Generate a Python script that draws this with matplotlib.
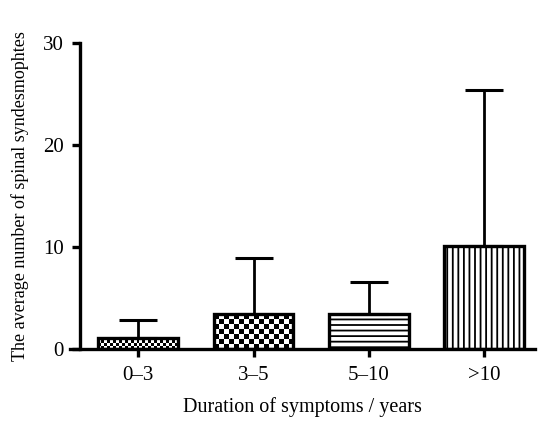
import numpy as np
import matplotlib
matplotlib.use("Agg")
import matplotlib.pyplot as plt

plt.rcParams['font.family'] = ['Liberation Serif', 'DejaVu Serif']
plt.rcParams['hatch.linewidth'] = 1.3

categories = ['0\u20133', '3\u20135', '5\u201310', '>10']
mean_counts = [1.1, 3.4, 3.4, 10.1]
sd_counts = [1.75, 5.5, 3.2, 15.3]
hatches = [None, None, '---', '|||']
checker_cells = [3, 5, None, None]  # checker square size in px

fig = plt.figure(figsize=(5.39, 4.23), dpi=100)
ax = fig.add_axes([0.130, 0.175, 0.8626, 0.723])

x = np.arange(len(categories))
bars = ax.bar(x, mean_counts, width=0.69, color='none', edgecolor='black',
              linewidth=2.4, zorder=3)
for bar, h in zip(bars, hatches):
    if h:
        bar.set_hatch(h)

ax.errorbar(x, mean_counts, yerr=[np.zeros(len(x)), sd_counts], fmt='none',
            ecolor='black', elinewidth=2, capsize=14, capthick=2.2, zorder=2)

ax.set_xlim(-0.59, 3.44)
ax.set_ylim(0, 30)
ax.spines['left'].set_position(('data', -0.5))
ax.spines['left'].set_bounds(0, 30)

# checker fills, clipped to the bars
fig.canvas.draw()
for bar, cell in zip(bars, checker_cells):
    if not cell:
        continue
    x0, y0 = bar.get_x(), bar.get_y()
    x1, y1 = x0 + bar.get_width(), y0 + bar.get_height()
    (px0, py0), (px1, py1) = ax.transData.transform([(x0, y0), (x1, y1)])
    nx = max(1, int(round((px1 - px0) / cell)))
    ny = max(1, int(round((py1 - py0) / cell)))
    board = (np.add.outer(np.arange(ny), np.arange(nx)) % 2).astype(float)
    im = ax.imshow(board, extent=(x0, x1, y0, y1), cmap='gray', vmin=0, vmax=1,
                   interpolation='nearest', aspect='auto', zorder=2.5)
    im.set_clip_path(bar)
ax.set_xlim(-0.59, 3.44)
ax.set_ylim(0, 30)

for s in ['top', 'right']:
    ax.spines[s].set_visible(False)
for s in ['left', 'bottom']:
    ax.spines[s].set_linewidth(2.4)

ax.set_xticks(x)
ax.set_xticklabels(categories)
ax.set_yticks([0, 10, 20, 30])
ax.tick_params(axis='both', direction='out', length=6, width=2.4,
               labelsize=15, pad=6)
ax.set_xlabel('Duration of symptoms / years', fontsize=14.5, labelpad=9)
ax.set_ylabel('The average number of spinal syndesmophtes', fontsize=13, labelpad=10)

fig.savefig('out.png', dpi=100)
